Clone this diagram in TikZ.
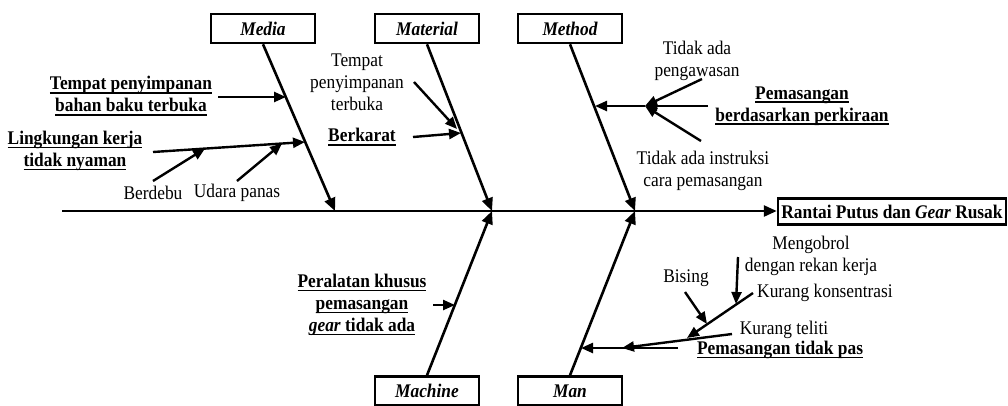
\documentclass[tikz,border=0pt]{standalone}
\usepackage{fontspec}
\setmainfont{Liberation Serif}[FakeStretch=0.9]
\usetikzlibrary{arrows.meta}
\newcommand\uln[1]{\setbox0=\hbox{#1}\leavevmode\rlap{\rule[-3.6pt]{\wd0}{1.5pt}}\box0}
\begin{document}
\begin{tikzpicture}[x=1pt,y=-1pt,
  every node/.style={font=\fontsize{19.3}{22}\selectfont, inner sep=0pt, align=center},
  catbox/.style={draw, line width=2.5pt, minimum width=104pt, minimum height=29pt, font=\fontsize{19.3}{22}\selectfont\bfseries\itshape},
  effbox/.style={draw, line width=2.5pt, minimum width=228pt, minimum height=26pt, font=\fontsize{19.3}{22}\selectfont\bfseries},
  bone/.style={line width=2.6pt, -{Triangle[length=13pt,width=11pt]}},
  arr/.style={line width=2.4pt, -{Triangle[length=12pt,width=10pt]}},
  cause/.style={font=\fontsize{19.3}{22}\selectfont},
  bcause/.style={font=\fontsize{19.3}{22}\selectfont\bfseries}]
\useasboundingbox (0,0) rectangle (1008,405);

% category boxes
\node[catbox] (media) at (263,28.5) {Media};
\node[catbox] (material) at (427,28.5) {Material};
\node[catbox] (method) at (570,28.5) {Method};
\node[catbox] (machine) at (427,391) {Machine};
\node[catbox] (man) at (570,391) {Man};
\node[effbox] (effect) at (892,211.5) {Rantai Putus dan \textit{Gear} Rusak};

% spine
\coordinate (spineL) at (62,211);
\coordinate (sMedia) at (335,211);
\coordinate (sMat) at (492,211);
\coordinate (sMet) at (635,211);
\draw[bone] (spineL) -- (spineL -| effect.west);

% bones
\draw[bone] (media.south) -- (sMedia);
\draw[bone] (material.south) -- (sMat);
\draw[bone] (method.south) -- (sMet);
\draw[bone] (machine.north) -- (sMat);
\draw[bone] (man.north) -- (sMet);

% ---- Media causes
\node[bcause] (tpb) at (131,96) {\uln{Tempat penyimpanan}\\\uln{bahan baku terbuka}};
\coordinate (tpbS) at (218,97);
\coordinate (tpbE) at (286,97);
\draw[arr] (tpbS) -- (tpbE);

\node[bcause] (lk) at (75,151) {\uln{Lingkungan kerja}\\\uln{tidak nyaman}};
\coordinate (lkS) at (153,152);
\coordinate (lkE) at (305,142);
\draw[arr] (lkS) -- (lkE);

\node[cause] (berdebu) at (153,193) {Berdebu};
\node[cause] (udara) at (237,193) {Udara panas};
\coordinate (bdS) at (153,181);
\coordinate (bdE) at (205,148.6);
\coordinate (upS) at (237,181);
\coordinate (upE) at (282,143.5);
\draw[arr] (bdS) -- (bdE);
\draw[arr] (upS) -- (upE);

% ---- Material causes
\node[cause] (tpt) at (357,82) {Tempat\\penyimpanan\\terbuka};
\coordinate (tptS) at (414,82);
\coordinate (tptE) at (457,129);
\draw[arr] (tptS) -- (tptE);
\node[bcause] (berkarat) at (362,137) {\uln{Berkarat}};
\coordinate (bkS) at (413,137);
\coordinate (bkE) at (461,133);
\draw[arr] (bkS) -- (bkE);

% ---- Method causes
\node[cause] (tap) at (697,61) {Tidak ada\\pengawasan};
\node[bcause] (pbp) at (802,106) {\uln{Pemasangan}\\\uln{berdasarkan perkiraan}};
\node[cause] (tai) at (703,171) {Tidak ada instruksi\\cara pemasangan};
\coordinate (mj) at (645,106);
\coordinate (mjU) at (702,79);
\coordinate (mjR) at (708,106);
\coordinate (mjD) at (701,141);
\coordinate (mjE) at (595,106);
\draw[arr] (mjU) -- (mj);
\draw[arr] (mjR) -- (mj);
\draw[arr] (mjD) -- (mj);
\draw[arr] (mj) -- (mjE);

% ---- Machine cause
\node[bcause] (pk) at (362,305) {\uln{Peralatan khusus}\\\uln{pemasangan}\\\uln{\textit{gear} tidak ada}};
\coordinate (pkS) at (433,305);
\coordinate (pkE) at (455,305);
\draw[arr] (pkS) -- (pkE);

% ---- Man causes
\node[cause] (mengobrol) at (811,256) {Mengobrol\\dengan rekan kerja};
\node[cause] (kk) at (825,293) {Kurang konsentrasi};
\node[cause] (bising) at (686,278) {Bising};
\node[cause] (kt) at (784,330) {Kurang teliti};
\node[bcause] (ptp) at (780,350) {\uln{Pemasangan tidak pas}};
\coordinate (ptpS) at (678,348);
\coordinate (ptpE) at (581,348);
\coordinate (ktS) at (732,334);
\coordinate (ktE) at (622,348);
\coordinate (kkS) at (753,293);
\coordinate (kkE) at (687,338);
\coordinate (bsS) at (685,292);
\coordinate (bsE) at (707,324);
\coordinate (mgS) at (738,257);
\coordinate (mgE) at (736,304);
\draw[arr] (ptpS) -- (ptpE);
\draw[arr] (ktS) -- (ktE);
\draw[arr] (kkS) -- (kkE);
\draw[arr] (bsS) -- (bsE);
\draw[arr] (mgS) -- (mgE);
\end{tikzpicture}
\end{document}
